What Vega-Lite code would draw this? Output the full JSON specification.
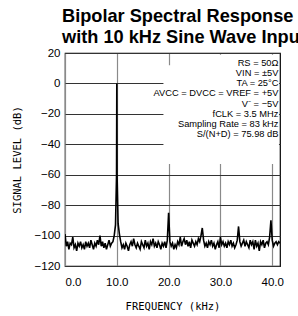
{
  "$schema": "https://vega.github.io/schema/vega-lite/v6.json",
  "autosize": {"type": "none"},
  "padding": {"left": 65, "top": 53, "right": 18, "bottom": 50},
  "width": 215,
  "height": 213,
  "background": "white",
  "title": {
    "text": ["Bipolar Spectral Response", "with 10 kHz Sine Wave Input"],
    "anchor": "start",
    "frame": "group",
    "font": "Liberation Sans",
    "fontSize": 18.2,
    "fontWeight": "bold",
    "color": "black",
    "lineHeight": 21,
    "dx": -3,
    "offset": 0
  },
  "config": {
    "view": {"stroke": "black", "strokeWidth": 1.2},
    "axis": {
      "labelFont": "Liberation Sans",
      "labelFontSize": 11.5,
      "labelColor": "black",
      "labelOverlap": false,
      "labelBound": false,
      "labelFlush": false,
      "titleFont": "DejaVu Sans Mono",
      "titleFontWeight": "normal",
      "titleFontSize": 10.5,
      "titleColor": "black",
      "ticks": false,
      "domain": false,
      "gridOpacity": 1
    },
    "axisX": {"gridColor": "#8a8a8a", "gridWidth": 1.2, "labelPadding": 10, "titlePadding": 14, "format": ".1f", "tickCount": 5, "labelFlush": 1},
    "axisY": {"gridColor": "#333333", "gridWidth": 1, "labelPadding": 5, "titlePadding": 12, "tickCount": 8}
  },
  "layer": [
    {
      "data": {"values": [
        {"f": 0.0, "db": -99}, {"f": 0.25, "db": -107}, {"f": 0.5, "db": -104}, {"f": 0.75, "db": -109},
        {"f": 1.0, "db": -105}, {"f": 1.25, "db": -106}, {"f": 1.5, "db": -101}, {"f": 1.75, "db": -108},
        {"f": 2.0, "db": -106}, {"f": 2.25, "db": -110}, {"f": 2.5, "db": -105}, {"f": 2.75, "db": -107},
        {"f": 3.0, "db": -104}, {"f": 3.25, "db": -108}, {"f": 3.5, "db": -106}, {"f": 3.75, "db": -109},
        {"f": 4.0, "db": -104}, {"f": 4.25, "db": -107}, {"f": 4.5, "db": -105}, {"f": 4.75, "db": -108},
        {"f": 5.0, "db": -103}, {"f": 5.25, "db": -106}, {"f": 5.5, "db": -109}, {"f": 5.75, "db": -105},
        {"f": 6.0, "db": -107}, {"f": 6.25, "db": -103}, {"f": 6.5, "db": -106}, {"f": 6.75, "db": -100},
        {"f": 7.0, "db": -107}, {"f": 7.25, "db": -104}, {"f": 7.5, "db": -108}, {"f": 7.75, "db": -105},
        {"f": 8.0, "db": -109}, {"f": 8.25, "db": -106}, {"f": 8.5, "db": -103}, {"f": 8.75, "db": -107},
        {"f": 9.0, "db": -105}, {"f": 9.25, "db": -104}, {"f": 9.5, "db": -100}, {"f": 9.75, "db": -93},
        {"f": 9.95, "db": -60}, {"f": 10.0, "db": 0}, {"f": 10.05, "db": -60},
        {"f": 10.25, "db": -92}, {"f": 10.5, "db": -99}, {"f": 10.75, "db": -104},
        {"f": 11.0, "db": -108}, {"f": 11.25, "db": -106}, {"f": 11.5, "db": -109}, {"f": 11.75, "db": -105},
        {"f": 12.0, "db": -107}, {"f": 12.25, "db": -110}, {"f": 12.5, "db": -106}, {"f": 12.75, "db": -104},
        {"f": 13.0, "db": -107}, {"f": 13.25, "db": -102}, {"f": 13.5, "db": -106}, {"f": 13.75, "db": -108},
        {"f": 14.0, "db": -105}, {"f": 14.25, "db": -107}, {"f": 14.5, "db": -109}, {"f": 14.75, "db": -104},
        {"f": 15.0, "db": -106}, {"f": 15.25, "db": -108}, {"f": 15.5, "db": -103}, {"f": 15.75, "db": -107},
        {"f": 16.0, "db": -105}, {"f": 16.25, "db": -109}, {"f": 16.5, "db": -104}, {"f": 16.75, "db": -106},
        {"f": 17.0, "db": -102}, {"f": 17.25, "db": -107}, {"f": 17.5, "db": -105}, {"f": 17.75, "db": -108},
        {"f": 18.0, "db": -104}, {"f": 18.25, "db": -106}, {"f": 18.5, "db": -109}, {"f": 18.75, "db": -105},
        {"f": 19.0, "db": -107}, {"f": 19.25, "db": -104}, {"f": 19.5, "db": -108}, {"f": 19.75, "db": -103},
        {"f": 20.0, "db": -85}, {"f": 20.25, "db": -104}, {"f": 20.5, "db": -107}, {"f": 20.75, "db": -105},
        {"f": 21.0, "db": -109}, {"f": 21.25, "db": -106}, {"f": 21.5, "db": -108}, {"f": 21.75, "db": -104},
        {"f": 22.0, "db": -106}, {"f": 22.25, "db": -101}, {"f": 22.5, "db": -107}, {"f": 22.75, "db": -104},
        {"f": 23.0, "db": -102}, {"f": 23.25, "db": -106}, {"f": 23.5, "db": -103}, {"f": 23.75, "db": -107},
        {"f": 24.0, "db": -104}, {"f": 24.25, "db": -108}, {"f": 24.5, "db": -103}, {"f": 24.75, "db": -105},
        {"f": 25.0, "db": -107}, {"f": 25.25, "db": -104}, {"f": 25.5, "db": -106}, {"f": 25.75, "db": -102},
        {"f": 26.0, "db": -104}, {"f": 26.25, "db": -100}, {"f": 26.5, "db": -95}, {"f": 26.75, "db": -103},
        {"f": 27.0, "db": -107}, {"f": 27.25, "db": -105}, {"f": 27.5, "db": -108}, {"f": 27.75, "db": -104},
        {"f": 28.0, "db": -106}, {"f": 28.25, "db": -103}, {"f": 28.5, "db": -107}, {"f": 28.75, "db": -105},
        {"f": 29.0, "db": -109}, {"f": 29.25, "db": -106}, {"f": 29.5, "db": -104}, {"f": 29.75, "db": -108},
        {"f": 30.0, "db": -101}, {"f": 30.25, "db": -106}, {"f": 30.5, "db": -104}, {"f": 30.75, "db": -107},
        {"f": 31.0, "db": -105}, {"f": 31.25, "db": -108}, {"f": 31.5, "db": -104}, {"f": 31.75, "db": -106},
        {"f": 32.0, "db": -103}, {"f": 32.25, "db": -107}, {"f": 32.5, "db": -105}, {"f": 32.75, "db": -108},
        {"f": 33.0, "db": -106}, {"f": 33.25, "db": -103}, {"f": 33.5, "db": -94}, {"f": 33.75, "db": -104},
        {"f": 34.0, "db": -107}, {"f": 34.25, "db": -105}, {"f": 34.5, "db": -103}, {"f": 34.75, "db": -107},
        {"f": 35.0, "db": -104}, {"f": 35.25, "db": -106}, {"f": 35.5, "db": -108}, {"f": 35.75, "db": -103},
        {"f": 36.0, "db": -106}, {"f": 36.25, "db": -104}, {"f": 36.5, "db": -109}, {"f": 36.75, "db": -103},
        {"f": 37.0, "db": -107}, {"f": 37.25, "db": -105}, {"f": 37.5, "db": -110}, {"f": 37.75, "db": -104},
        {"f": 38.0, "db": -106}, {"f": 38.25, "db": -103}, {"f": 38.5, "db": -108}, {"f": 38.75, "db": -105},
        {"f": 39.0, "db": -104}, {"f": 39.25, "db": -106}, {"f": 39.5, "db": -101}, {"f": 39.75, "db": -90},
        {"f": 40.0, "db": -103}, {"f": 40.25, "db": -107}, {"f": 40.5, "db": -105}, {"f": 40.75, "db": -104},
        {"f": 41.0, "db": -106}, {"f": 41.25, "db": -104}, {"f": 41.5, "db": -105}
      ]},
      "mark": {"type": "line", "color": "black", "strokeWidth": 1.6, "clip": true},
      "encoding": {
        "x": {
          "field": "f", "type": "quantitative",
          "scale": {"domain": [0, 41.5], "nice": false, "zero": false},
          "axis": {"title": "FREQUENCY (kHz)", "values": [0, 10, 20, 30, 40]}
        },
        "y": {
          "field": "db", "type": "quantitative",
          "scale": {"domain": [-120, 20], "nice": false, "zero": false},
          "axis": {"title": "SIGNAL LEVEL (dB)", "values": [-120, -100, -80, -60, -40, -20, 0, 20]}
        }
      }
    },
    {
      "data": {"values": [
        {"f": 19.0, "f2": 41.3, "db": -53, "db2": 12},
        {"f": 24.5, "f2": 41.3, "db": 11, "db2": 18.8}
      ]},
      "mark": {"type": "rect", "color": "white", "opacity": 1},
      "encoding": {
        "x": {"field": "f", "type": "quantitative", "axis": {"title": "FREQUENCY (kHz)", "values": [0, 10, 20, 30, 40]}},
        "x2": {"field": "f2"},
        "y": {"field": "db", "type": "quantitative", "axis": {"title": "SIGNAL LEVEL (dB)", "values": [-120, -100, -80, -60, -40, -20, 0, 20]}},
        "y2": {"field": "db2"}
      }
    },
    {
      "data": {"values": [
        {"label": "RS = 50Ω", "f": 41.2, "db": 13.5},
        {"label": "VIN = ±5V", "f": 41.2, "db": 6.8},
        {"label": "TA = 25°C", "f": 41.2, "db": 0.1},
        {"label": "AVCC = DVCC = VREF = +5V", "f": 41.2, "db": -6.6},
        {"label": "V⁻ = −5V", "f": 41.2, "db": -13.3},
        {"label": "fCLK = 3.5 MHz", "f": 41.2, "db": -20},
        {"label": "Sampling Rate = 83 kHz", "f": 41.2, "db": -26.7},
        {"label": "S/(N+D) = 75.98 dB", "f": 41.2, "db": -33.4}
      ]},
      "mark": {"type": "text", "align": "right", "baseline": "middle", "font": "Liberation Sans", "fontSize": 9.3, "color": "black"},
      "encoding": {
        "x": {"field": "f", "type": "quantitative", "axis": {"title": "FREQUENCY (kHz)", "values": [0, 10, 20, 30, 40]}},
        "y": {"field": "db", "type": "quantitative", "axis": {"title": "SIGNAL LEVEL (dB)", "values": [-120, -100, -80, -60, -40, -20, 0, 20]}},
        "text": {"field": "label"}
      }
    }
  ]
}
